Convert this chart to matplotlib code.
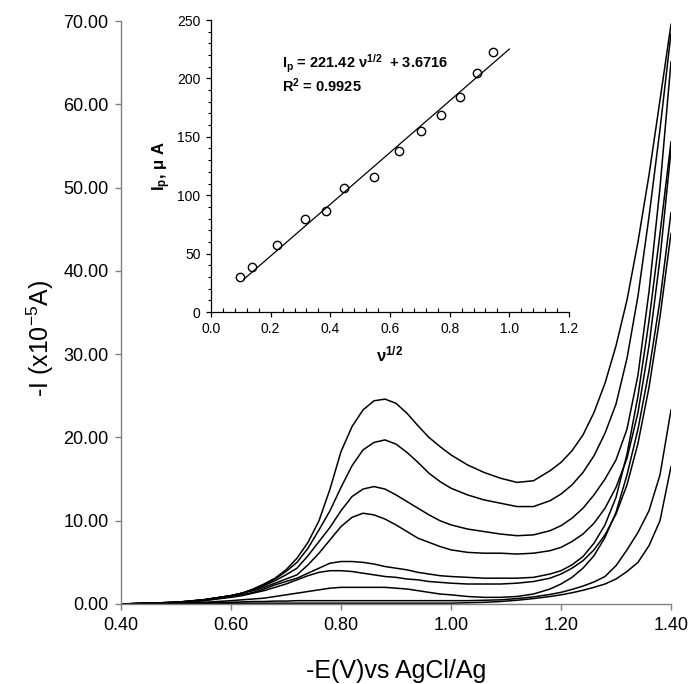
import matplotlib
matplotlib.use("Agg")
import matplotlib.pyplot as plt
from matplotlib.ticker import MultipleLocator, FormatStrFormatter

plt.rcParams['font.family'] = ['Liberation Sans', 'DejaVu Sans']
plt.rcParams['mathtext.fontset'] = 'custom'
plt.rcParams['mathtext.rm'] = 'Liberation Sans'
plt.rcParams['mathtext.it'] = 'Liberation Sans:italic'
plt.rcParams['mathtext.bf'] = 'Liberation Sans:bold'

# ---------------- data: voltammograms ----------------
potential = [0.40, 0.45, 0.50, 0.55,
             0.60, 0.62, 0.64, 0.66, 0.68, 0.70, 0.72, 0.74, 0.76, 0.78, 0.80,
             0.82, 0.84, 0.86, 0.88, 0.90, 0.92, 0.94, 0.96, 0.98, 1.00,
             1.03, 1.06, 1.09, 1.12, 1.15, 1.18,
             1.20, 1.22, 1.24, 1.26, 1.28, 1.30, 1.32, 1.34, 1.36, 1.38, 1.40]

curve_a = [0.0, 0.1, 0.2, 0.5,
           1.0, 1.3, 1.8, 2.4, 3.1, 4.1, 5.5, 7.4, 10.0, 13.8, 18.3,
           21.3, 23.3, 24.4, 24.6, 24.1, 22.9, 21.4, 20.0, 18.9, 17.9,
           16.7, 15.8, 15.1, 14.6, 14.8, 16.0,
           17.0, 18.4, 20.3, 23.0, 26.5, 31.0, 36.5, 43.5, 51.5, 60.5, 69.6]
curve_b = [0.0, 0.1, 0.2, 0.5,
           1.0, 1.3, 1.7, 2.3, 3.0, 3.9, 5.0, 6.7, 8.9, 11.2, 14.0,
           16.6, 18.5, 19.4, 19.7, 19.2, 18.2, 17.0, 15.7, 14.7, 13.9,
           13.1, 12.5, 12.1, 11.7, 11.7, 12.4,
           13.2, 14.3, 15.8, 17.8, 20.5, 24.0, 29.5, 37.0, 46.5, 57.0, 68.5]
curve_c = [0.0, 0.1, 0.2, 0.5,
           1.0, 1.3, 1.7, 2.2, 2.8, 3.5, 4.3, 5.8, 7.5, 9.2, 11.2,
           12.9, 13.8, 14.1, 13.8, 13.1, 12.3, 11.5, 10.7, 10.0, 9.5,
           9.0, 8.7, 8.4, 8.2, 8.3, 8.8,
           9.4, 10.3, 11.5, 13.1, 15.0, 17.3, 21.0, 27.5, 37.5, 50.0, 65.1]
curve_d = [0.0, 0.1, 0.2, 0.5,
           1.0, 1.3, 1.6, 2.0, 2.5, 3.0, 3.5, 4.7, 6.1, 7.7, 9.3,
           10.4, 10.9, 10.7, 10.2, 9.5, 8.7, 7.9, 7.4, 6.9, 6.5,
           6.2, 6.1, 6.1, 6.0, 6.1, 6.4,
           6.8, 7.5, 8.4, 9.7, 11.5, 14.0, 17.5, 23.0, 31.0, 41.5, 54.5]
curve_e = [0.0, 0.1, 0.2, 0.4,
           0.9, 1.1, 1.4, 1.8, 2.3, 2.7, 3.1, 3.7, 4.3, 4.9, 5.1,
           5.1, 5.0, 4.8, 4.5, 4.3, 4.1, 3.8, 3.6, 3.4, 3.3,
           3.2, 3.1, 3.1, 3.1, 3.2, 3.6,
           4.0, 4.7, 5.7, 7.3, 9.5, 12.8, 18.0, 25.0, 34.0, 44.5, 55.5]
curve_f = [0.0, 0.1, 0.2, 0.4,
           0.8, 1.0, 1.3, 1.6, 2.0, 2.4, 2.9, 3.4, 3.8, 4.0, 4.0,
           3.9, 3.7, 3.5, 3.3, 3.2, 3.0, 2.9, 2.7, 2.6, 2.5,
           2.4, 2.4, 2.4, 2.5, 2.7, 3.1,
           3.6, 4.3, 5.2, 6.5, 8.3, 10.8, 14.3, 19.3, 26.0, 34.5, 44.5]
curve_g = [0.0, 0.05, 0.1, 0.2,
           0.4, 0.5, 0.6, 0.7, 0.9, 1.1, 1.3, 1.5, 1.7, 1.9, 2.0,
           2.0, 2.0, 2.0, 2.0, 1.9, 1.8, 1.6, 1.4, 1.2, 1.1,
           0.9, 0.8, 0.8, 0.9, 1.2, 1.8,
           2.4, 3.2, 4.3, 5.8, 8.0, 11.0, 15.5, 21.0, 28.0, 36.5, 47.0]
curve_h = [0.0, 0.05, 0.1, 0.15,
           0.2, 0.25, 0.3, 0.3, 0.35, 0.35, 0.4, 0.4, 0.4, 0.4, 0.4,
           0.4, 0.4, 0.4, 0.4, 0.4, 0.4, 0.4, 0.4, 0.4, 0.4,
           0.4, 0.45, 0.5, 0.65, 0.85, 1.15,
           1.4, 1.75, 2.15, 2.65, 3.3, 4.6, 6.5, 8.6, 11.2, 15.5, 23.3]
curve_i = [0.0, 0.0, 0.05, 0.05,
           0.1, 0.1, 0.1, 0.1, 0.1, 0.1, 0.1, 0.1, 0.1, 0.1, 0.1,
           0.1, 0.1, 0.1, 0.1, 0.1, 0.1, 0.1, 0.1, 0.1, 0.1,
           0.15, 0.2, 0.3, 0.45, 0.65, 0.9,
           1.1, 1.35, 1.65, 2.0, 2.4, 3.0, 3.9, 5.0, 7.0, 10.0, 16.5]

curves = [curve_a, curve_b, curve_c, curve_d, curve_e, curve_f, curve_g, curve_h, curve_i]

x_ticks = [0.40, 0.60, 0.80, 1.00, 1.20, 1.40]
y_ticks = [0, 10, 20, 30, 40, 50, 60, 70]

# ---------------- data: inset (Ip vs v^1/2) ----------------
sqrt_v = [0.098, 0.138, 0.222, 0.315, 0.384, 0.445, 0.548, 0.631, 0.705, 0.772, 0.833, 0.890, 0.946]
ip_uA = [29.6, 38.5, 57.6, 79.2, 86.1, 106.3, 115.7, 138.0, 155.1, 168.8, 184.4, 205.0, 222.9]
fit_slope = 221.42
fit_intercept = 3.6716
fit_range = [0.11, 1.0]

# ---------------- figure ----------------
fig = plt.figure(figsize=(6.93, 6.84), dpi=100)
ax = fig.add_axes([121 / 693, 80 / 684, 550 / 693, 583 / 684])

for c in curves:
    ax.plot(potential, c, color='black', lw=1.1)

ax.set_xlim(0.40, 1.40)
ax.set_ylim(0, 70)
ax.set_xticks(x_ticks)
ax.set_yticks(y_ticks)
ax.xaxis.set_major_formatter(FormatStrFormatter('%.2f'))
ax.yaxis.set_major_formatter(FormatStrFormatter('%.2f'))
for s in ['top', 'right']:
    ax.spines[s].set_visible(False)
for s in ['left', 'bottom']:
    ax.spines[s].set_color('#808080')
    ax.spines[s].set_linewidth(1.0)
ax.tick_params(axis='both', direction='out', length=4, width=1.0, color='#808080',
               labelsize=13, pad=5)
ax.set_xlabel('-E(V)vs AgCl/Ag', fontsize=18)
ax.xaxis.set_label_coords(0.5, -0.115)
ax.xaxis.label.set_verticalalignment('center')
ax.set_ylabel(r'-I (x10$^{\mathregular{-5}}$A)', fontsize=18)
ax.yaxis.set_label_coords(-0.147, 0.455)
ax.yaxis.label.set_verticalalignment('center')

# ---------------- inset ----------------
ins = fig.add_axes([211 / 693, (684 - 312) / 684, 358 / 693, 292 / 684])
ins.patch.set_alpha(0)
ins.plot(sqrt_v, ip_uA, 'o', mfc='white', mec='black', mew=1.0, ms=6, ls='none')
ins.plot(fit_range, [fit_slope * v + fit_intercept for v in fit_range], color='black', lw=0.9)
ins.set_xlim(0, 1.2)
ins.set_ylim(0, 250)
ins.xaxis.set_major_locator(MultipleLocator(0.2))
ins.xaxis.set_minor_locator(MultipleLocator(0.04))
ins.yaxis.set_major_locator(MultipleLocator(50))
ins.yaxis.set_minor_locator(MultipleLocator(10))
ins.xaxis.set_major_formatter(FormatStrFormatter('%.1f'))
for s in ['top', 'right']:
    ins.spines[s].set_visible(False)
for s in ['left', 'bottom']:
    ins.spines[s].set_linewidth(0.9)
ins.tick_params(axis='both', which='major', direction='out', length=3.5, width=0.9,
                labelsize=10, pad=4)
ins.tick_params(axis='x', which='minor', direction='in', length=3, width=0.8)
ins.tick_params(axis='y', which='minor', direction='out', length=2.5, width=0.8)
ins.set_xlabel(r'$\mathbf{\nu^{1/2}}$', fontsize=12, fontweight='bold', labelpad=6)
ins.set_ylabel(r'I$_\mathbf{p}$, μ A', fontsize=12, fontweight='bold', labelpad=3)
ins.text(0.238, 212, r'I$_\mathbf{p}$ = 221.42 ν$^{\mathbf{1/2}}$  + 3.6716',
         fontsize=10.5, fontweight='bold', va='center', ha='left')
ins.text(0.238, 194, r'R$^\mathbf{2}$ = 0.9925',
         fontsize=10.5, fontweight='bold', va='center', ha='left')

fig.savefig('out.png', dpi=100)
